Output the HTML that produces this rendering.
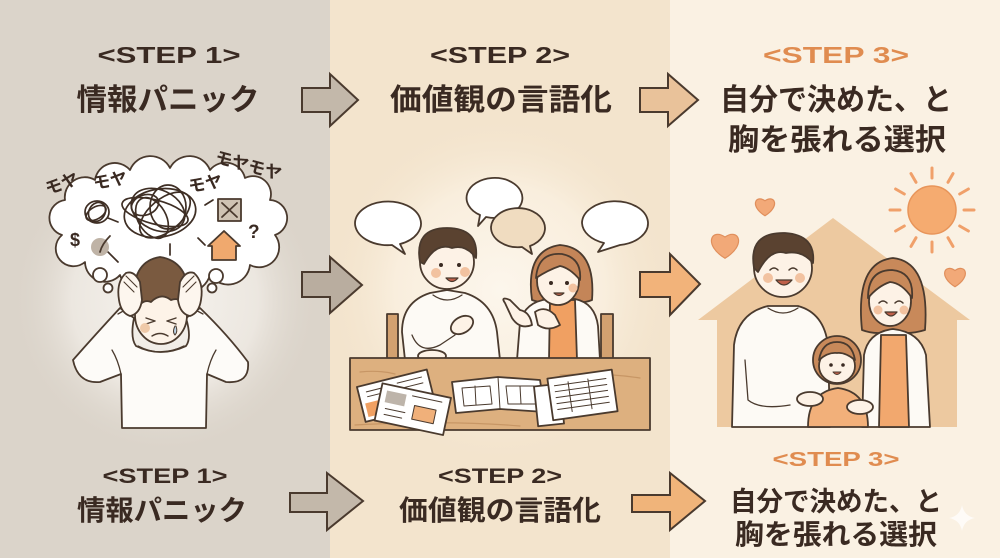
<!DOCTYPE html>
<html><head><meta charset="utf-8"><style>
html,body{margin:0;padding:0;background:#fff;}
svg{display:block;}
.t{font-family:"Liberation Sans","Noto Sans CJK JP",sans-serif;font-weight:700;fill:#3a2a22;}
.j{font-family:"Liberation Sans","Noto Sans CJK JP",sans-serif;font-weight:700;fill:#3a2a22;}
.o{fill:#e08c50;}
</style></head><body>
<svg width="1000" height="558" viewBox="0 0 1000 558" xmlns="http://www.w3.org/2000/svg">
<defs>
<radialGradient id="g1" cx="165" cy="300" r="155" gradientUnits="userSpaceOnUse">
<stop offset="0" stop-color="#f6f3ee"/><stop offset="0.6" stop-color="#ece7e0"/><stop offset="1" stop-color="#dbd4ca" stop-opacity="0"/></radialGradient>
<radialGradient id="g2" cx="500" cy="290" r="175" gradientUnits="userSpaceOnUse">
<stop offset="0" stop-color="#fcf6ec"/><stop offset="0.6" stop-color="#f9eedd"/><stop offset="1" stop-color="#f3e4cd" stop-opacity="0"/></radialGradient>
</defs>
<!-- backgrounds -->
<rect x="0" y="0" width="330" height="558" fill="#dbd4ca"/>
<rect x="330" y="0" width="340" height="558" fill="#f3e4cd"/>
<rect x="670" y="0" width="330" height="558" fill="#faf1e3"/>
<circle cx="165" cy="300" r="155" fill="url(#g1)"/>
<circle cx="500" cy="290" r="175" fill="url(#g2)"/>

<!-- TOP TEXT -->
<text class="t" x="169" y="63" font-size="23" text-anchor="middle" textLength="143" lengthAdjust="spacingAndGlyphs">&lt;STEP 1&gt;</text>
<text class="j" x="168" y="110" font-size="30" text-anchor="middle" textLength="183" lengthAdjust="spacingAndGlyphs">情報パニック</text>
<text class="t" x="500" y="63" font-size="23" text-anchor="middle" textLength="140" lengthAdjust="spacingAndGlyphs">&lt;STEP 2&gt;</text>
<text class="j" x="501" y="110" font-size="30" text-anchor="middle" textLength="222" lengthAdjust="spacingAndGlyphs">価値観の言語化</text>
<text class="t o" x="836" y="63" font-size="23" text-anchor="middle" textLength="146" lengthAdjust="spacingAndGlyphs">&lt;STEP 3&gt;</text>
<text class="j" x="836" y="110" font-size="30" text-anchor="middle" textLength="232" lengthAdjust="spacingAndGlyphs">自分で決めた、と</text>
<text class="j" x="837" y="150" font-size="30" text-anchor="middle" textLength="218" lengthAdjust="spacingAndGlyphs">胸を張れる選択</text>

<!-- TOP ARROWS -->
<path d="M302 88 L330 88 L330 74 L358 100 L330 126 L330 112 L302 112 Z" fill="#c3b8aa" stroke="#4a3a2e" stroke-width="2" stroke-linejoin="miter"/>
<path d="M640 88 L668 88 L668 74 L698 100 L668 126 L668 112 L640 112 Z" fill="#e9c29a" stroke="#4a3a2e" stroke-width="2"/>
<!-- MIDDLE ARROWS -->
<path d="M302 272 L330 272 L330 257 L362 285 L330 313 L330 297 L302 297 Z" fill="#b9ad9f" stroke="#4a3a2e" stroke-width="2"/>
<path d="M640 272 L670 272 L670 254 L700 284 L670 315 L670 297 L640 297 Z" fill="#f2b37a" stroke="#4a3a2e" stroke-width="2"/>
<!-- BOTTOM ARROWS -->
<path d="M290 493 L327 493 L327 473 L363 501 L327 530 L327 512 L290 512 Z" fill="#c3b8aa" stroke="#4a3a2e" stroke-width="2"/>
<path d="M632 495 L670 495 L670 473 L705 501 L670 530 L670 512 L632 512 Z" fill="#f0b47a" stroke="#4a3a2e" stroke-width="2"/>

<!-- BOTTOM TEXT -->
<text class="t" x="165" y="483" font-size="21" text-anchor="middle" textLength="125" lengthAdjust="spacingAndGlyphs">&lt;STEP 1&gt;</text>
<text class="j" x="162" y="520" font-size="28" text-anchor="middle" textLength="170" lengthAdjust="spacingAndGlyphs">情報パニック</text>
<text class="t" x="500" y="483" font-size="21" text-anchor="middle" textLength="124" lengthAdjust="spacingAndGlyphs">&lt;STEP 2&gt;</text>
<text class="j" x="500" y="520" font-size="28" text-anchor="middle" textLength="202" lengthAdjust="spacingAndGlyphs">価値観の言語化</text>
<text class="t o" x="836" y="466" font-size="20" text-anchor="middle" textLength="127" lengthAdjust="spacingAndGlyphs">&lt;STEP 3&gt;</text>
<text class="j" x="836" y="511" font-size="27" text-anchor="middle" textLength="212" lengthAdjust="spacingAndGlyphs">自分で決めた、と</text>
<text class="j" x="836" y="544" font-size="28" text-anchor="middle" textLength="202" lengthAdjust="spacingAndGlyphs">胸を張れる選択</text>
<path d="M962 505 Q964 516 975 518 Q964 520 962 531 Q960 520 949 518 Q960 516 962 505 Z" fill="#ffffff" opacity="0.7"/>

<!-- PANEL 1 ILLUSTRATION -->
<g stroke="#4a3a2e" stroke-width="1.8" stroke-linecap="round" stroke-linejoin="round">
<path d="M85 262 A16 16 0 0 1 62 235 A18 18 0 0 1 65 200 A20 20 0 0 1 95 180 A20 20 0 0 1 130 170 A22 22 0 0 1 170 168 A22 22 0 0 1 210 170 A20 20 0 0 1 245 178 A18 18 0 0 1 270 200 A18 18 0 0 1 275 235 A20 20 0 0 1 250 265 A22 22 0 0 1 210 275 A24 24 0 0 1 165 278 A24 24 0 0 1 120 275 A20 20 0 0 1 85 262 Z" fill="#ffffff"/>
<circle cx="100" cy="275" r="7" fill="#fff"/>
<circle cx="108" cy="288" r="4.5" fill="#fff"/>
<circle cx="216" cy="276" r="7" fill="#fff"/>
<circle cx="212" cy="288" r="4.5" fill="#fff"/>
<g fill="none" stroke="#3e2e24" stroke-width="1.7">
<ellipse cx="160" cy="213" rx="36" ry="24" transform="rotate(-10 160 213)"/>
<ellipse cx="158" cy="210" rx="28" ry="20" transform="rotate(25 158 210)"/>
<ellipse cx="165" cy="215" rx="30" ry="16" transform="rotate(-40 165 215)"/>
<ellipse cx="152" cy="218" rx="22" ry="14" transform="rotate(60 152 218)"/>
<ellipse cx="168" cy="207" rx="18" ry="22"/>
<ellipse cx="155" cy="212" rx="34" ry="12" transform="rotate(15 155 212)"/>
<ellipse cx="145" cy="205" rx="14" ry="10" transform="rotate(-20 145 205)"/>
<ellipse cx="97" cy="212" rx="12" ry="11"/>
<ellipse cx="97" cy="212" rx="8" ry="10" transform="rotate(30 97 212)"/>
<ellipse cx="96" cy="213" rx="11" ry="6" transform="rotate(-30 96 213)"/>
<path d="M108 218 L118 222"/>
<path d="M205 205 L213 200"/>
<path d="M198 238 L205 245"/>
<path d="M170 244 L170 255"/>
<path d="M108 252 L118 262"/>
</g>
<rect x="218" y="199" width="23" height="22" fill="#cfc3b3"/>
<path d="M222 203 L237 217 M237 203 L222 217" fill="none"/>
<path d="M208 246 L224 231 L240 246 L236 246 L236 260 L212 260 L212 246 Z" fill="#f0a96e"/>
<circle cx="100" cy="247" r="9" fill="#bfb3a6" stroke="none"/>
<path d="M100 252 Q102 244 110 236" fill="none"/>
<!-- man -->
<path d="M120 308 Q95 335 73 360 Q78 384 100 382 L121 374 L122 428 L206 428 L207 374 L226 382 Q250 384 248 362 Q228 335 200 308 L186 318 Q192 338 186 346 Q160 358 136 346 Q130 338 134 318 Z" fill="#fdfbf8"/>
<path d="M121 374 Q118 360 112 350 M207 374 Q210 360 216 350 M138 346 Q160 358 184 346" fill="none" stroke-width="1.3"/>
<path d="M118 314 L132 306 M203 314 L188 306" fill="none" stroke-width="1.3"/>
<ellipse cx="161" cy="315" rx="26" ry="29" fill="#fdf3e8"/>
<path d="M135 312 Q128 262 160 257 Q193 262 188 310 Q181 296 171 300 Q161 292 151 302 Q142 298 135 312 Z" fill="#7a5a40"/>
<path d="M119 300 Q116 282 126 273 Q134 270 140 282 L142 300 Q140 314 130 316 Q121 313 119 300 Z" fill="#fdf6ee"/>
<path d="M201 300 Q204 282 194 273 Q186 270 180 282 L178 300 Q180 314 190 316 Q199 313 201 300 Z" fill="#fdf6ee"/>
<path d="M124 282 L134 292 M126 276 L137 287 M196 282 L186 292 M194 276 L183 287" fill="none" stroke-width="1.1"/>
<path d="M146 318 L155 321 M146 324 L155 321 M167 321 L176 318 M167 321 L176 324 M152 336 Q160 331 168 336" fill="none" stroke-width="1.4"/>
<circle cx="145" cy="328" r="5" fill="#efc9a8" stroke="none"/>
<path d="M175 326 Q172 332 175 335 Q178 332 176 326" fill="#bcd4e6" stroke-width="1"/>
</g>
<g class="t" font-size="17" fill="#3a2a22">
<text x="44" y="190" transform="rotate(-20 60 182)">モヤ</text>
<text x="93" y="186" transform="rotate(-10 112 180)">モヤ</text>
<text x="188" y="189" transform="rotate(-10 208 182)">モヤ</text>
<text x="212" y="172" transform="rotate(15 250 175)">モヤモヤ</text>
<text x="248" y="238" font-size="19">?</text>
<text x="70" y="246" font-size="18">$</text>
</g>

<!-- PANEL 2 ILLUSTRATION -->
<g stroke="#4a3a2e" stroke-width="1.8" stroke-linejoin="round" stroke-linecap="round">
<path d="M355 223 A33 22 0 1 1 400 244 L405 254 L392 245 A33 22 0 0 1 355 223 Z" fill="#ffffff"/>
<path d="M492 178 A28 20 0 1 1 486 217 L478 226 L480 215 A28 20 0 0 1 492 178 Z" fill="#ffffff"/>
<path d="M491 227 A27 20 0 1 1 530 246 L532 254 L522 247 A27 20 0 0 1 491 227 Z" fill="#f0dcc0"/>
<path d="M582 223 A33 22 0 1 1 620 245 L598 252 L604 243 A33 22 0 0 1 582 223 Z" fill="#ffffff"/>
<!-- chairs -->
<rect x="387" y="314" width="11" height="48" fill="#d3a170"/>
<rect x="601" y="314" width="12" height="48" fill="#d3a170"/>
<!-- man -->
<path d="M405 360 L402 332 Q402 302 430 293 L447 290 L465 293 Q493 302 497 332 L500 360 Z" fill="#fdfaf5"/>
<path d="M433 295 Q447 305 462 295" fill="none" stroke-width="1.3"/>
<path d="M412 335 Q420 355 440 345 L455 335" fill="none" stroke-width="1.3"/>
<ellipse cx="462" cy="325" rx="12" ry="8" fill="#fdf2e6" transform="rotate(-30 462 325)"/>
<ellipse cx="432" cy="356" rx="14" ry="6" fill="#fdf2e6"/>
<circle cx="447" cy="262" r="27" fill="#fdf2e6"/>
<path d="M420 262 Q414 228 447 228 Q479 228 476 258 Q466 244 452 248 Q436 242 424 264 Z" fill="#5a4230"/>
<circle cx="441" cy="265" r="2" fill="#3a2a22" stroke="none"/>
<circle cx="459" cy="265" r="2" fill="#3a2a22" stroke="none"/>
<path d="M446 278 Q452 285 458 278 Z" fill="#c0604a" stroke-width="1.2"/>
<circle cx="436" cy="273" r="5" fill="#f2c2a0" stroke="none"/>
<circle cx="465" cy="272" r="5" fill="#f2c2a0" stroke="none"/>
<!-- woman -->
<path d="M532 300 Q525 250 560 245 Q596 248 592 300 Q580 305 562 300 Q545 305 532 300 Z" fill="#c48558"/>
<path d="M517 360 L520 322 Q525 302 548 299 L575 299 Q595 303 598 326 L600 360 Z" fill="#fdfaf5"/>
<path d="M550 300 L575 300 L577 360 L549 360 Z" fill="#f0a062"/>
<ellipse cx="558" cy="281" rx="21" ry="24" fill="#fdf2e6"/>
<path d="M536 278 Q538 252 562 254 Q582 258 580 280 Q570 268 560 266 Q548 270 536 278 Z" fill="#c48558"/>
<circle cx="551" cy="283" r="2" fill="#3a2a22" stroke="none"/>
<circle cx="567" cy="283" r="2" fill="#3a2a22" stroke="none"/>
<path d="M554 293 Q559 298 564 293 Z" fill="#c0604a" stroke-width="1.2"/>
<circle cx="573" cy="288" r="4.5" fill="#f2c2a0" stroke="none"/>
<path d="M505 303 Q500 296 510 300 L520 310 Q530 312 532 325 Q520 330 512 318 Z" fill="#fdf2e6"/>
<path d="M535 312 Q545 305 555 315 L560 325 Q548 332 538 325 Z" fill="#fdf2e6"/>
<!-- table -->
<rect x="350" y="358" width="300" height="72" fill="#ddb07f"/>
<path d="M355 425 Q450 420 520 426 M560 375 Q600 372 640 378 M360 372 Q380 370 395 374" fill="none" stroke="#c79665" stroke-width="1.2"/>
<g transform="rotate(-14 395 395)">
<rect x="360" y="378" width="72" height="36" fill="#ffffff"/>
<rect x="364" y="396" width="30" height="14" fill="#f0a062" stroke="none"/>
<path d="M368 385 L395 385 M368 390 L390 390 M400 384 L425 384 M400 390 L425 390" fill="none" stroke-width="1"/>
</g>
<g transform="rotate(12 412 408)">
<rect x="378" y="390" width="70" height="38" fill="#ffffff"/>
<rect x="384" y="396" width="20" height="12" fill="#bdb4aa" stroke="none"/>
<rect x="414" y="405" width="22" height="14" fill="#f0b07a" stroke-width="1"/>
<path d="M386 414 L406 414 M386 420 L404 420 M410 396 L440 396" fill="none" stroke-width="1"/>
</g>
<path d="M452 382 L498 377 L540 380 L545 412 L500 409 L456 413 Z" fill="#ffffff"/>
<path d="M498 377 L500 409 M462 388 L490 386 L492 404 L464 406 Z M506 386 L534 386 L536 404 L508 404 Z M475 386 L476 405 M520 386 L521 404" fill="none" stroke-width="1"/>
<rect x="536" y="385" width="26" height="40" fill="#ffffff" transform="rotate(-6 549 405)"/>
<g transform="rotate(-8 582 395)">
<rect x="550" y="374" width="65" height="42" fill="#ffffff"/>
<path d="M556 382 L608 382 M556 388 L608 388 M556 394 L608 394 M556 400 L608 400 M556 406 L608 406 M570 380 L570 410 M590 380 L590 410" fill="none" stroke-width="1"/>
</g>
</g>

<!-- PANEL 3 ILLUSTRATION -->
<path d="M833 218 L970 320 L957 320 L957 427 L717 427 L717 320 L698 320 Z" fill="#edc9a0"/>
<g stroke="#f0a06a" stroke-width="3" stroke-linecap="round">
<path d="M964 210 L974 210 M959.7 226 L968.4 231 M948 237.7 L953 246.4 M932 242 L932 252 M916 237.7 L911 246.4 M904.3 226 L895.6 231 M900 210 L890 210 M904.3 194 L895.6 189 M916 182.3 L911 173.6 M932 178 L932 168 M948 182.3 L953 173.6 M959.7 194 L968.4 189"/>
</g>
<circle cx="932" cy="210" r="24" fill="#f5ab70" stroke="#e8955a" stroke-width="1.5"/>
<g fill="#f2a978" stroke="#e08f5c" stroke-width="1.2">
<path d="M765 215.8 C749.4 206.2 755.4 194.2 765 200.8 C774.6 194.2 780.6 206.2 765 215.8 Z"/>
<path d="M725 258.3 C702.9 244.7 711.4 227.7 725 237 C738.6 227.7 747.1 244.7 725 258.3 Z"/>
<path d="M955 286.7 C938.1 276.3 944.6 263.3 955 270.5 C965.4 263.3 971.9 276.3 955 286.7 Z"/>
</g>
<g stroke="#4a3a2e" stroke-width="1.8" stroke-linejoin="round" stroke-linecap="round">
<!-- dad -->
<path d="M732 427 L734 345 Q738 313 768 306 L798 306 Q824 313 828 345 L830 427 Z" fill="#fdfaf5"/>
<path d="M768 308 Q783 318 798 308" fill="none" stroke-width="1.3"/>
<path d="M745 360 L748 400 Q760 410 790 405" fill="none" stroke-width="1.3"/>
<circle cx="783" cy="268" r="29" fill="#fdf2e6"/>
<path d="M754 268 Q748 232 785 233 Q816 235 813 263 Q802 250 786 253 Q770 248 758 272 Z" fill="#5a4230"/>
<path d="M770 270 Q774 266 778 270 M789 270 Q793 266 797 270" fill="none" stroke-width="1.5"/>
<path d="M776 280 Q784 290 792 280 Z" fill="#c0604a" stroke-width="1.2"/>
<circle cx="768" cy="278" r="5" fill="#f2c2a0" stroke="none"/>
<circle cx="800" cy="278" r="5" fill="#f2c2a0" stroke="none"/>
<!-- mom -->
<path d="M862 330 Q855 262 893 258 Q930 262 925 330 Q905 336 893 330 Q878 336 862 330 Z" fill="#c8895a"/>
<path d="M862 427 L864 355 Q868 332 893 329 Q920 332 926 355 L930 427 Z" fill="#fdfaf5"/>
<path d="M881 335 L906 335 L909 427 L879 427 Z" fill="#f2a86e"/>
<ellipse cx="890" cy="301" rx="21" ry="25" fill="#fdf2e6"/>
<path d="M868 298 Q868 270 892 270 Q914 272 912 298 Q902 283 890 282 Q878 286 868 298 Z" fill="#c8895a"/>
<path d="M879 303 Q883 299 887 303 M895 303 Q899 299 903 303" fill="none" stroke-width="1.5"/>
<path d="M885 312 Q891 320 897 312 Z" fill="#c0604a" stroke-width="1.2"/>
<circle cx="878" cy="310" r="4.5" fill="#f2c2a0" stroke="none"/>
<circle cx="904" cy="310" r="4.5" fill="#f2c2a0" stroke="none"/>
<!-- child -->
<path d="M808 427 Q808 392 838 388 Q868 392 868 427 Z" fill="#f2b07a"/>
<circle cx="837" cy="360" r="24" fill="#c8895a"/>
<ellipse cx="837" cy="366" rx="18" ry="17" fill="#fdf2e6"/>
<path d="M819 360 Q822 342 837 342 Q852 342 855 360 Q845 352 837 353 Q828 352 819 360 Z" fill="#c8895a"/>
<circle cx="831" cy="365" r="1.8" fill="#3a2a22" stroke="none"/>
<circle cx="843" cy="365" r="1.8" fill="#3a2a22" stroke="none"/>
<path d="M833 372 Q837 377 841 372 Z" fill="#c0604a" stroke-width="1"/>
<ellipse cx="810" cy="399" rx="13" ry="7" fill="#fdf2e6"/>
<ellipse cx="860" cy="407" rx="13" ry="7" fill="#fdf2e6"/>
</g>
</svg>
</body></html>
